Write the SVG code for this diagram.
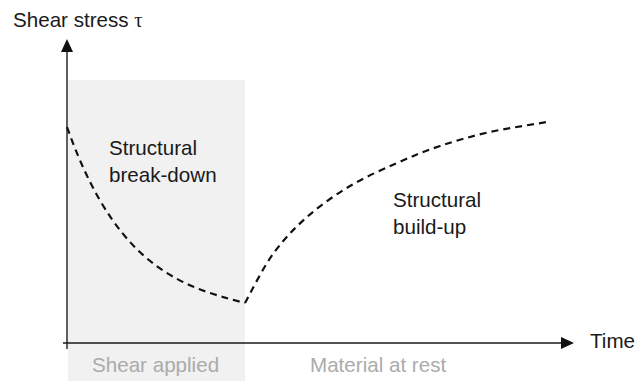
<svg xmlns="http://www.w3.org/2000/svg" width="635" height="381" viewBox="0 0 635 381">
<style>
.t{font-family:"Liberation Sans",Arial,sans-serif;font-size:20.6px;fill:#1a1a1a}
.g{font-family:"Liberation Sans",Arial,sans-serif;font-size:20.6px;fill:#ababab}
.ax{stroke:#1a1a1a;stroke-width:1.4;fill:none}
.cv{stroke:#111;stroke-width:2.2;fill:none;stroke-dasharray:7 5}
</style>
<rect width="635" height="381" fill="#fff"/>
<g id="shear-zone">
<rect x="68" y="80" width="177" height="301" fill="#f1f1f1"/>
<text class="g" x="92" y="372">Shear applied</text>
</g>
<g id="rest-zone">
<text class="g" x="310" y="372">Material at rest</text>
</g>
<g id="y-axis">
<line class="ax" x1="67" y1="349" x2="67" y2="50"/>
<polygon points="67,39 61,52 73,52" fill="#111"/>
<text class="t" x="13" y="27">Shear stress <tspan font-family="'Liberation Serif',serif">τ</tspan></text>
</g>
<g id="x-axis">
<line class="ax" x1="63" y1="343" x2="563" y2="343"/>
<polygon points="574,343 561,337 561,349" fill="#111"/>
<text class="t" x="590" y="348">Time</text>
</g>
<g id="connectors">
<path class="cv" d="M67,127 C81.67,168.4 96.33,196.4 111,217.8 C125.67,239.2 140.33,253.8 155,264.8 C169.67,275.8 184.33,283.3 199,289 C213.67,294.7 228.33,298.65 245,303"/>
<path class="cv" d="M245,303 C250,294 262.67,268.17 273,254 C283.33,239.83 294.17,228.33 307,217 C319.83,205.67 335,195 350,186 C365,177 382,169.67 397,163 C412,156.33 424.5,151.17 440,146 C455.5,140.83 472.17,136 490,132 C507.83,128 537.5,123.67 547,122"/>
</g>
<g id="breakdown-label">
<text class="t" x="109" y="155">Structural</text>
<text class="t" x="109" y="182">break-down</text>
</g>
<g id="buildup-label">
<text class="t" x="393" y="207">Structural</text>
<text class="t" x="393" y="234">build-up</text>
</g>
</svg>
